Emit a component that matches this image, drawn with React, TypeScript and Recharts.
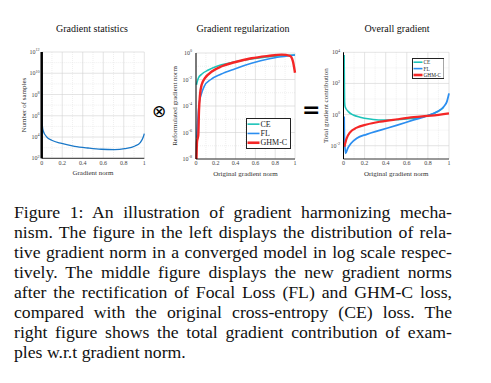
import { LineChart, Line, XAxis, YAxis, CartesianGrid } from "recharts"

const SERIF = '"Liberation Serif", "Times New Roman", serif'

const CE_COLOR = "#1dc3b9"
const FL_COLOR = "#2b8ef0"
const GHM_COLOR = "#f42626"
const STAT_COLOR = "#1a78c8"

// shared x axis (gradient norm)
const xTicks = [0, 0.2, 0.4, 0.6, 0.8, 1]
const xMinor = [0.1, 0.3, 0.5, 0.7, 0.9]

// left: gradient statistics
const statNorm = [0, 0.001, 0.003, 0.006, 0.016, 0.05, 0.097, 0.195, 0.32, 0.45, 0.58, 0.71, 0.81, 0.91, 0.96, 0.99, 1.0]
const statSamples = [1e10, 2.5e6, 4e5, 1.3e5, 3.5e4, 1e4, 5e3, 2.5e3, 1.35e3, 930, 710, 660, 810, 1450, 3000, 1e4, 2.1e4]
const statTicks = [1e2, 1e4, 1e6, 1e8, 1e10, 1e12]
const statMinor = [1e3, 1e5, 1e7, 1e9, 1e11]

// middle: gradient regularization
const regCeX = [0.005, 0.023, 0.057, 0.125, 0.226, 0.327, 0.495, 0.66, 0.83, 1.0]
const regCe = [4e-3, 1.25e-2, 2.5e-2, 5.2e-2, 0.11, 0.17, 0.3, 0.45, 0.59, 0.71]
const regFlX = [0.008, 0.017, 0.024, 0.034, 0.05, 0.084, 0.15, 0.25, 0.39, 0.56, 0.73, 0.865, 1.0]
const regFl = [4e-7, 6e-6, 4e-5, 2e-4, 6.3e-4, 3.2e-3, 1e-2, 2.5e-2, 6.3e-2, 0.166, 0.355, 0.525, 0.71]
const regGhmX = [0.005, 0.01, 0.023, 0.03, 0.04, 0.057, 0.09, 0.16, 0.26, 0.39, 0.56, 0.73, 0.865, 0.95, 0.98, 1.0]
const regGhm = [1e-8, 2e-7, 6.3e-7, 4e-5, 6.3e-4, 4e-3, 1.25e-2, 4e-2, 0.1, 0.2, 0.4, 0.6, 0.76, 0.6, 0.22, 3.2e-2]
const regTicks = [1e-8, 1e-6, 1e-4, 1e-2, 1]
const regMinor = [1e-7, 1e-5, 1e-3, 1e-1]

// right: overall gradient
const allCeX = [0.006, 0.008, 0.01, 0.015, 0.046, 0.093, 0.157, 0.25, 0.35, 0.44, 0.6, 0.76, 0.86, 0.92, 0.95]
const allCe = [6800, 200, 6.8, 3.2, 1.55, 0.93, 0.68, 0.52, 0.45, 0.45, 0.52, 0.74, 1.2, 2.0, 3.0]
const allFlX = [0.006, 0.008, 0.02, 0.04, 0.07, 0.126, 0.22, 0.35, 0.51, 0.665, 0.79, 0.89, 0.95, 0.98, 1.0]
const allFl = [0.74, 0.05, 3.2e-3, 6.8e-3, 1.4e-2, 3e-2, 5.4e-2, 0.1, 0.21, 0.45, 0.81, 1.55, 3.2, 6.8, 23]
const allGhmX = [0.008, 0.03, 0.062, 0.126, 0.22, 0.35, 0.51, 0.665, 0.83, 1.0]
const allGhm = [8.7e-3, 3e-2, 7.2e-2, 0.145, 0.23, 0.35, 0.5, 0.68, 0.85, 1.2]
const allTicks = [1e-2, 1, 1e2, 1e4]
const allMinor = [1e-1, 10, 1e3]

const LEGEND = [
  { name: "CE", color: CE_COLOR, width: 1.6 },
  { name: "FL", color: FL_COLOR, width: 1.6 },
  { name: "GHM-C", color: GHM_COLOR, width: 2.6 },
]

const CAPTION = [
  "Figure 1: An illustration of gradient harmonizing mecha-",
  "nism. The figure in the left displays the distribution of rela-",
  "tive gradient norm in a converged model in log scale respec-",
  "tively. The middle figure displays the new gradient norms",
  "after the rectification of Focal Loss (FL) and GHM-C loss,",
  "compared with the original cross-entropy (CE) loss. The",
  "right figure shows the total gradient contribution of exam-",
  "ples w.r.t gradient norm.",
]

const pts = (xs: number[], ys: number[]) => xs.map((x, i) => ({ x, y: ys[i] }))

function PowTick({ x, y, payload, fs }: any) {
  const e = Math.round(Math.log10(payload.value))
  return (
    <text x={x} y={y} textAnchor="end" dominantBaseline="central" fontSize={fs} fill="#444" fontFamily={SERIF}>
      10<tspan dy={-fs * 0.45} fontSize={fs * 0.7}>{e}</tspan>
    </text>
  )
}

function Panel(p: any) {
  return (
    <LineChart width={p.width} height={p.height} margin={p.margin}>
      <CartesianGrid horizontalValues={p.yMinor} verticalValues={xMinor} stroke="#e4e4e4" strokeDasharray="1 1" strokeWidth={0.6} />
      <CartesianGrid horizontalValues={p.yTicks} verticalValues={xTicks} stroke="#d2d2d2" strokeWidth={0.6} />
      <XAxis
        dataKey="x"
        type="number"
        domain={[0, 1]}
        ticks={xTicks}
        interval={0}
        tickLine={false}
        tickSize={1}
        tickMargin={1}
        height={20}
        axisLine={{ stroke: "#000", strokeWidth: 0.8 }}
        tick={{ fontSize: 6, fill: "#444", fontFamily: SERIF }}
        label={{ value: p.xLabel, position: "insideBottom", offset: 3.3, fontSize: 7, fill: "#333", fontFamily: SERIF }}
      />
      <XAxis xAxisId="top" orientation="top" type="number" domain={[0, 1]} tick={false} tickLine={false} height={0}
        axisLine={{ stroke: "#000", strokeWidth: 0.8, strokeDasharray: p.topDash }} />
      <YAxis
        type="number"
        scale="log"
        domain={p.yDomain}
        allowDataOverflow
        ticks={p.yTicks}
        interval={0}
        tickLine={false}
        tickSize={2}
        tickMargin={p.tickGap}
        width={p.yWidth}
        axisLine={{ stroke: "#000", strokeWidth: p.sideWidth }}
        tick={(t: any) => <PowTick {...t} fs={6} />}
        label={{ value: p.yLabel, angle: -90, position: "insideLeft", offset: p.yLabelOffset, fontSize: 7, fill: "#333", fontFamily: SERIF, style: { textAnchor: "middle" } }}
      />
      <YAxis yAxisId="right" orientation="right" type="number" domain={[0, 1]} tick={false} tickLine={false} width={0}
        axisLine={{ stroke: "#000", strokeWidth: p.sideWidth, strokeDasharray: p.sideDash }} />
      {p.series.map((s: any) => (
        <Line key={s.name} data={s.data} dataKey="y" type="monotone" stroke={s.color} strokeWidth={s.width}
          dot={false} isAnimationActive={false} />
      ))}
    </LineChart>
  )
}

// legend drawn as svg so that tiny text keeps its size
function LegendBox({ left, top, width, height, fs, rowH, padTop, lineW }: any) {
  return (
    <svg style={{ position: "absolute", left, top }} width={width} height={height}>
      <rect x={0.5} y={0.5} width={width - 1} height={height - 1} fill="#fff" stroke="#222" strokeWidth={1} />
      {LEGEND.map((l, i) => {
        const cy = padTop + (i + 0.5) * rowH
        return (
          <g key={l.name}>
            <line x1={1.5} y1={cy} x2={1.5 + lineW} y2={cy} stroke={l.color} strokeWidth={l.width} />
            <text x={lineW + 2.5} y={cy} dominantBaseline="central" fontSize={fs} fill="#222" fontFamily={SERIF}>{l.name}</text>
          </g>
        )
      })}
    </svg>
  )
}

const title = (text: string, cx: number) => (
  <div style={{ position: "absolute", left: cx - 60, width: 120, top: 22.5, textAlign: "center", fontSize: 10, color: "#111", fontFamily: SERIF }}>{text}</div>
)

export default function App() {
  return (
    <div style={{ position: "absolute", left: 0, top: 0, width: 491, height: 383, background: "#fff", fontFamily: SERIF, overflow: "hidden" }}>
      {title("Gradient statistics", 92)}
      {title("Gradient regularization", 243)}
      {title("Overall gradient", 397)}

      <div style={{ position: "absolute", left: 0, top: 0 }}>
        <Panel width={170} height={185} margin={{ top: 52, right: 25.7, left: 11.7, bottom: 6.7 }} yWidth={30}
          yDomain={[1e2, 1e12]} yTicks={statTicks} yMinor={statMinor} tickGap={0}
          xLabel="Gradient norm" yLabel="Number of samples" yLabelOffset={12.3}
          sideWidth={2.5} sideDash={undefined} topDash="1 1"
          series={[{ name: "stat", data: pts(statNorm, statSamples), color: STAT_COLOR, width: 1.3 }]} />
      </div>

      <div style={{ position: "absolute", left: 160, top: 0 }}>
        <Panel width={160} height={185} margin={{ top: 53, right: 25, left: 6, bottom: 6 }} yWidth={30}
          yDomain={[1e-8, 1]} yTicks={regTicks} yMinor={regMinor} tickGap={2}
          xLabel="Original gradient norm" yLabel="Reformulated gradient norm" yLabelOffset={9}
          sideWidth={1} sideDash="1 1" topDash="1 1"
          series={[
            { name: "CE", data: pts(regCeX, regCe), color: CE_COLOR, width: 1.6 },
            { name: "FL", data: pts(regFlX, regFl), color: FL_COLOR, width: 1.6 },
            { name: "GHM-C", data: pts(regGhmX, regGhm), color: GHM_COLOR, width: 2.4 },
          ]} />
      </div>

      <div style={{ position: "absolute", left: 320, top: 0 }}>
        <Panel width={171} height={185} margin={{ top: 52.3, right: 42, left: 3.5, bottom: 6 }} yWidth={20}
          yDomain={[1.4e-3, 1e4]} yTicks={allTicks} yMinor={allMinor} tickGap={1.5}
          xLabel="Original gradient norm" yLabel="Total gradient contribution" yLabelOffset={2.5}
          sideWidth={1} sideDash="1 1" topDash="1 1"
          series={[
            { name: "CE", data: pts(allCeX, allCe), color: CE_COLOR, width: 1.6 },
            { name: "FL", data: pts(allFlX, allFl), color: FL_COLOR, width: 1.8 },
            { name: "GHM-C", data: pts(allGhmX, allGhm), color: GHM_COLOR, width: 2.2 },
          ]} />
      </div>

      <LegendBox left={246} top={118} width={45} height={31} fs={8} rowH={9.3} padTop={1.5} lineW={12} />
      <LegendBox left={411.7} top={58} width={32.6} height={21} fs={5.3} rowH={6.4} padTop={1} lineW={9} />

      <div style={{ position: "absolute", left: 150, top: 99, width: 18, textAlign: "center", fontSize: 17, lineHeight: "24px", fontFamily: '"DejaVu Sans"', color: "#000" }}>⊗</div>
      <div style={{ position: "absolute", left: 302, top: 97, width: 18, textAlign: "center", fontSize: 22, lineHeight: "26px", fontWeight: 700, fontFamily: '"DejaVu Sans"', color: "#000" }}>=</div>

      <div style={{ position: "absolute", left: 14, top: 202, width: 438, fontSize: 17.7, lineHeight: "20px", color: "#111", fontFamily: SERIF }}>
        {CAPTION.map((line, i) => (
          <div key={i} style={{ textAlign: "justify", textAlignLast: i === CAPTION.length - 1 ? "left" : "justify", whiteSpace: "nowrap" }}>{line}</div>
        ))}
      </div>
    </div>
  )
}
